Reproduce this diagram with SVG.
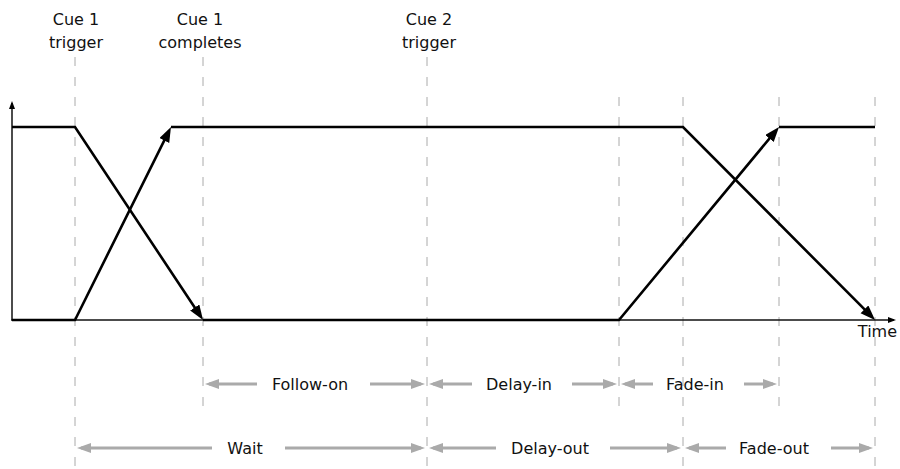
<svg xmlns="http://www.w3.org/2000/svg" width="900" height="469" viewBox="0 0 900 469">
<style>
text{font-family:"DejaVu Sans","Liberation Sans",sans-serif;font-size:16px;fill:#111}
.c{text-anchor:middle}
.guide{stroke:#aaa;stroke-width:1;stroke-dasharray:9 11;fill:none}
.axis{stroke:#111;stroke-width:1.5;fill:none}
.sig{stroke:#000;stroke-width:2.6;fill:none;stroke-linejoin:miter}
.span{stroke:#aaa;stroke-width:3;fill:none}
</style>
<defs>
<marker id="ah" markerUnits="userSpaceOnUse" markerWidth="16" markerHeight="12" refX="9" refY="5.5" orient="auto" viewBox="0 0 16 12">
<path d="M0,0 L15,5.5 L0,11 z" fill="#000"/>
</marker>
<marker id="ga" markerUnits="userSpaceOnUse" markerWidth="16" markerHeight="12" refX="10" refY="5" orient="auto" viewBox="0 0 16 12">
<path d="M0,0 L14,5 L0,10 z" fill="#aaa"/>
</marker>
<marker id="ax" markerUnits="userSpaceOnUse" markerWidth="10" markerHeight="8" refX="6" refY="3" orient="auto" viewBox="0 0 10 8">
<path d="M0,0 L8,3 L0,6 z" fill="#000"/>
</marker>
</defs>

<g id="guides">
<line class="guide" x1="75" y1="57" x2="75" y2="469"/>
<line class="guide" x1="203" y1="57" x2="203" y2="406"/>
<line class="guide" x1="427" y1="57" x2="427" y2="469"/>
<line class="guide" x1="619" y1="97" x2="619" y2="406"/>
<line class="guide" x1="683" y1="97" x2="683" y2="469"/>
<line class="guide" x1="779" y1="97" x2="779" y2="406"/>
<line class="guide" x1="875" y1="97" x2="875" y2="469"/>
</g>

<g id="axes">
<line class="axis" x1="12" y1="320.5" x2="12" y2="103" marker-end="url(#ax)"/>
<line class="axis" x1="11.25" y1="320" x2="894" y2="320" marker-end="url(#ax)"/>
</g>

<g id="connectors">
<path class="sig" d="M12,127 H75 L199.7,315" marker-end="url(#ah)"/>
<path class="sig" d="M203,320 H619 L775.2,131.6" marker-end="url(#ah)"/>
<path class="sig" d="M779,127 H875"/>
<path class="sig" d="M12,320 H75 L168.3,132.4" marker-end="url(#ah)"/>
<path class="sig" d="M171,127 H683 L870.8,315.7" marker-end="url(#ah)"/>
</g>

<g id="label-cue1-trigger">
<text class="c" x="76" y="25">Cue 1</text>
<text class="c" x="76" y="48">trigger</text>
</g>
<g id="label-cue1-completes">
<text class="c" x="200" y="25">Cue 1</text>
<text class="c" x="200" y="48">completes</text>
</g>
<g id="label-cue2-trigger">
<text class="c" x="429" y="25">Cue 2</text>
<text class="c" x="429" y="48">trigger</text>
</g>
<g id="label-time">
<text x="897" y="337" text-anchor="end">Time</text>
</g>

<g id="span-follow-on">
<line class="span" x1="257" y1="384" x2="209" y2="384" marker-end="url(#ga)"/>
<text class="c" x="310" y="390">Follow-on</text>
<line class="span" x1="370" y1="384" x2="421" y2="384" marker-end="url(#ga)"/>
</g>
<g id="span-delay-in">
<line class="span" x1="472" y1="384" x2="433" y2="384" marker-end="url(#ga)"/>
<text class="c" x="519" y="390">Delay-in</text>
<line class="span" x1="572" y1="384" x2="613" y2="384" marker-end="url(#ga)"/>
</g>
<g id="span-fade-in">
<line class="span" x1="653" y1="384" x2="625" y2="384" marker-end="url(#ga)"/>
<text class="c" x="695" y="390">Fade-in</text>
<line class="span" x1="744" y1="384" x2="773" y2="384" marker-end="url(#ga)"/>
</g>
<g id="span-wait">
<line class="span" x1="212" y1="448" x2="81" y2="448" marker-end="url(#ga)"/>
<text class="c" x="245" y="454">Wait</text>
<line class="span" x1="285" y1="448" x2="421" y2="448" marker-end="url(#ga)"/>
</g>
<g id="span-delay-out">
<line class="span" x1="496" y1="448" x2="433" y2="448" marker-end="url(#ga)"/>
<text class="c" x="550" y="454">Delay-out</text>
<line class="span" x1="610" y1="448" x2="677" y2="448" marker-end="url(#ga)"/>
</g>
<g id="span-fade-out">
<line class="span" x1="726" y1="448" x2="689" y2="448" marker-end="url(#ga)"/>
<text class="c" x="774" y="454">Fade-out</text>
<line class="span" x1="831" y1="448" x2="869" y2="448" marker-end="url(#ga)"/>
</g>
</svg>
